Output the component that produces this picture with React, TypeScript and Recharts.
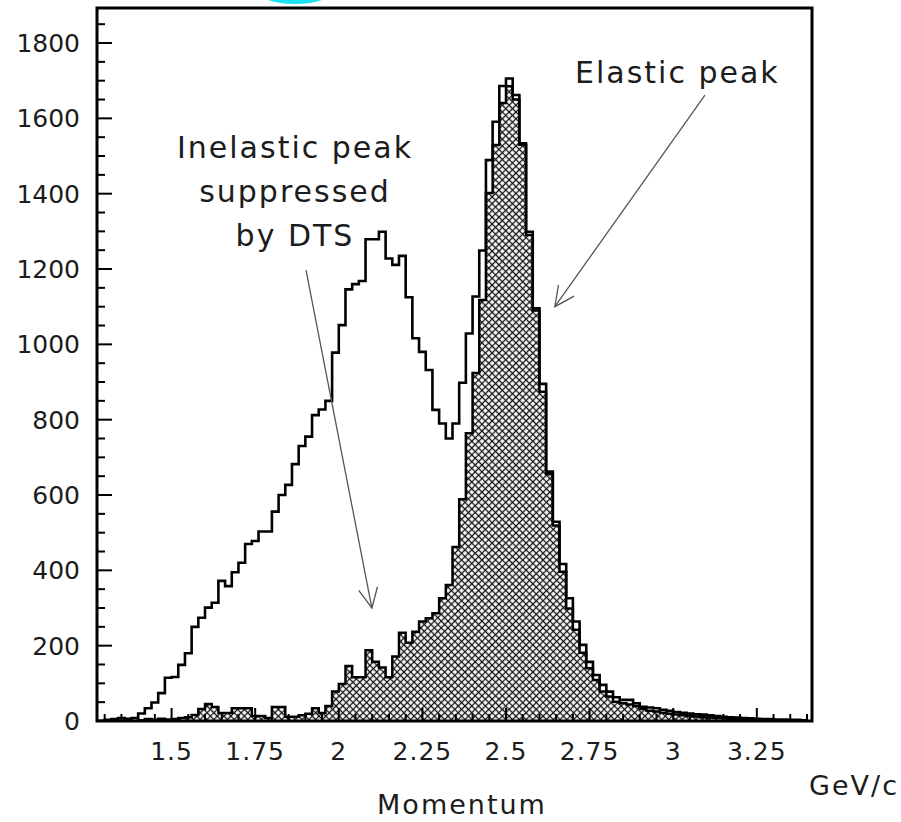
import { ComposedChart, Area, XAxis, YAxis, ReferenceArea, ReferenceLine } from 'recharts';

// histogram binning (GeV/c)
const BIN_LO = 1.28;
const BIN_W = 0.02;

// counts per bin, all events (open histogram)
const allEvents = [
  0, 3, 5, 8, 6, 8, 20, 34, 49, 74,
  115, 117, 149, 180, 250, 274, 301, 314, 372, 358,
  395, 420, 470, 478, 503, 503, 556, 600, 627, 682,
  730, 755, 812, 827, 850, 978, 1051, 1146, 1160, 1168,
  1279, 1279, 1299, 1228, 1211, 1235, 1125, 1016, 980, 932,
  826, 790, 750, 790, 898, 1029, 1127, 1249, 1489, 1591,
  1686, 1706, 1662, 1534, 1299, 1096, 895, 662, 529, 417,
  326, 264, 202, 157, 122, 96, 78, 63, 56, 56,
  47, 38, 36, 34, 30, 27, 24, 22, 20, 18,
  17, 15, 13, 11, 10, 9, 8, 7, 6, 5,
  5, 4, 4, 3, 3, 2,
];

// counts per bin after the DTS cut (hatched histogram)
const withDts = [
  0, 0, 2, 0, 3, 0, 2, 5, 3, 6,
  4, 5, 8, 10, 16, 32, 45, 37, 21, 21,
  34, 34, 34, 13, 13, 8, 37, 37, 11, 11,
  15, 19, 34, 21, 40, 78, 98, 146, 116, 116,
  188, 157, 142, 116, 171, 234, 208, 237, 264, 273,
  286, 326, 361, 462, 589, 764, 924, 1118, 1402, 1529,
  1641, 1685, 1650, 1530, 1290, 1090, 874, 655, 519, 396,
  299, 242, 181, 140, 109, 78, 65, 51, 47, 44,
  40, 32, 27, 25, 22, 19, 17, 15, 13, 12,
  10, 9, 8, 7, 6, 5, 4, 4, 3, 3,
  2, 2, 2, 1, 1, 1,
];

const xTicks = [
  1.3, 1.35, 1.4, 1.45, 1.5, 1.55, 1.6, 1.65, 1.7, 1.75, 1.8, 1.85, 1.9, 1.95,
  2, 2.05, 2.1, 2.15, 2.2, 2.25, 2.3, 2.35, 2.4, 2.45, 2.5, 2.55, 2.6, 2.65,
  2.7, 2.75, 2.8, 2.85, 2.9, 2.95, 3, 3.05, 3.1, 3.15, 3.2, 3.25, 3.3, 3.35, 3.4,
];
const xLabels = [1.5, 1.75, 2, 2.25, 2.5, 2.75, 3, 3.25];

const yTicks = [
  0, 50, 100, 150, 200, 250, 300, 350, 400, 450, 500, 550, 600, 650, 700, 750,
  800, 850, 900, 950, 1000, 1050, 1100, 1150, 1200, 1250, 1300, 1350, 1400,
  1450, 1500, 1550, 1600, 1650, 1700, 1750, 1800, 1850,
];
const yLabels = [0, 200, 400, 600, 800, 1000, 1200, 1400, 1600, 1800];

const X_DOMAIN = [1.277, 3.415];
const Y_DOMAIN = [0, 1893];

const FONT = '"DejaVu Sans", sans-serif';
const INK = '#1c1c1c';

// step table: one row per bin left edge, plus the closing edge
const rows = allEvents.map((n, i) => ({ x: +(BIN_LO + i * BIN_W).toFixed(2), all: n, dts: withDts[i] }));
rows.push({ x: +(BIN_LO + allEvents.length * BIN_W).toFixed(2), all: allEvents[allEvents.length - 1], dts: withDts[withDts.length - 1] });

function XTick(props: any) {
  const { x, y, payload } = props;
  const major = xLabels.includes(payload.value);
  return (
    <g>
      <line x1={x} x2={x} y1={y} y2={y - (major ? 13 : 7)} stroke="#000" strokeWidth={2} />
      {major && (
        <text x={x} y={y + 39} textAnchor="middle" fontFamily={FONT} fontSize={25} fill={INK} letterSpacing={1}>
          {String(payload.value)}
        </text>
      )}
    </g>
  );
}

function YTick(props: any) {
  const { x, y, payload } = props;
  const major = yLabels.includes(payload.value);
  return (
    <g>
      <line x1={x} x2={x + (major ? 15 : 8)} y1={y} y2={y} stroke="#000" strokeWidth={2} />
      {major && (
        <text x={x - 17} y={y + 9} textAnchor="end" fontFamily={FONT} fontSize={25} fill={INK}>
          {String(payload.value)}
        </text>
      )}
    </g>
  );
}

function Arrow(props: any) {
  const { x1, y1, x2, y2 } = props;
  const a = Math.atan2(y2 - y1, x2 - x1);
  const len = 22;
  const s = 0.45;
  const p1 = `${x2 - len * Math.cos(a - s)},${y2 - len * Math.sin(a - s)}`;
  const p2 = `${x2 - len * Math.cos(a + s)},${y2 - len * Math.sin(a + s)}`;
  return (
    <g stroke="#555" strokeWidth={1.3} fill="none">
      <line x1={x1} y1={y1} x2={x2} y2={y2} />
      <polyline points={`${p1} ${x2},${y2} ${p2}`} />
    </g>
  );
}

export default function App() {
  return (
    <div style={{ position: 'absolute', left: 0, top: 0, width: 901, height: 822, background: '#fff' }}>
      <ComposedChart width={901} height={822} data={rows} margin={{ top: 8, right: 89, bottom: 0, left: 0 }}>
        <defs>
          <pattern id="xhatch" width="4.8" height="4.8" patternUnits="userSpaceOnUse" patternTransform="rotate(45)">
            <rect width="4.8" height="4.8" fill="#fff" />
            <line x1="2.4" y1="0" x2="2.4" y2="4.8" stroke="#111" strokeWidth="1.3" />
            <line x1="0" y1="2.4" x2="4.8" y2="2.4" stroke="#111" strokeWidth="1.3" />
          </pattern>
        </defs>
        <XAxis
          type="number"
          dataKey="x"
          domain={X_DOMAIN}
          allowDataOverflow
          ticks={xTicks}
          interval={0}
          tick={(p: any) => <XTick {...p} />}
          tickLine={false}
          axisLine={false}
          tickSize={0}
          tickMargin={0}
          height={101}
        />
        <YAxis
          type="number"
          domain={Y_DOMAIN}
          allowDataOverflow
          ticks={yTicks}
          interval={0}
          tick={(p: any) => <YTick {...p} />}
          tickLine={false}
          axisLine={false}
          tickSize={0}
          tickMargin={0}
          width={97}
        />
        <Area
          type="stepAfter"
          dataKey="dts"
          stroke="#000"
          strokeWidth={2.5}
          fill="url(#xhatch)"
          fillOpacity={1}
          dot={false}
          activeDot={false}
          isAnimationActive={false}
        />
        <Area
          type="stepAfter"
          dataKey="all"
          stroke="#000"
          strokeWidth={2.6}
          fill="none"
          dot={false}
          activeDot={false}
          isAnimationActive={false}
        />
        <ReferenceArea
          x1={X_DOMAIN[0]}
          x2={X_DOMAIN[1]}
          y1={Y_DOMAIN[0]}
          y2={Y_DOMAIN[1]}
          fill="none"
          stroke="#000"
          strokeWidth={3}
          ifOverflow="visible"
        />
        <ReferenceLine segment={[{ x: 1.902, y: 1197 }, { x: 2.099, y: 300 }]} shape={Arrow} ifOverflow="visible" />
        <ReferenceLine segment={[{ x: 3.095, y: 1662 }, { x: 2.646, y: 1100 }]} shape={Arrow} ifOverflow="visible" />
      </ComposedChart>

      <svg width={901} height={822} style={{ position: 'absolute', left: 0, top: 0, pointerEvents: 'none' }}>
        <ellipse cx={295} cy={-12} rx={38} ry={14} fill="none" stroke="#19e3ee" strokeWidth={4} />
        <g fontFamily={FONT} fill={INK} fontSize={30} letterSpacing={2}>
          <text x={575} y={83}>Elastic peak</text>
          <text x={295} y={158} textAnchor="middle">Inelastic peak</text>
          <text x={295} y={202} textAnchor="middle">suppressed</text>
          <text x={295} y={246} textAnchor="middle">by DTS</text>
        </g>
        <g fontFamily={FONT} fill={INK} fontSize={27} letterSpacing={2}>
          <text x={899} y={795} textAnchor="end">GeV/c</text>
          <text x={462} y={814} textAnchor="middle">Momentum</text>
        </g>
      </svg>
    </div>
  );
}
